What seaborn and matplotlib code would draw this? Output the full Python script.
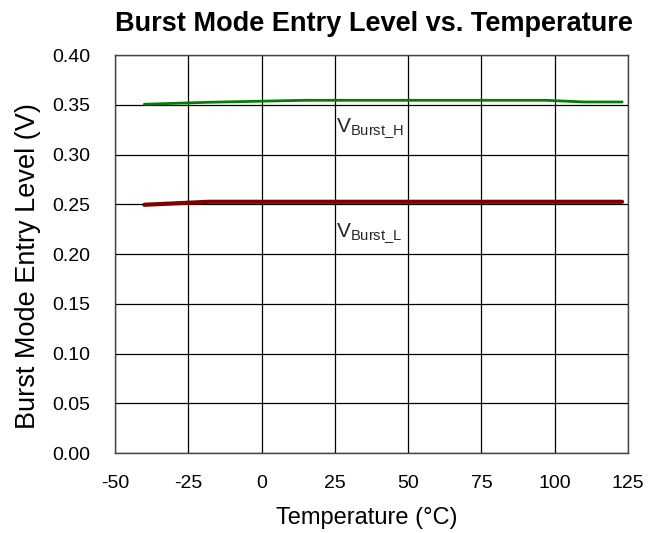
import matplotlib
matplotlib.use("Agg")
import matplotlib.pyplot as plt
import seaborn as sns
import pandas as pd

temp_h = [-40, -18, 15, 97, 110, 123]
v_burst_h = [0.3505, 0.3525, 0.3545, 0.3545, 0.3528, 0.3528]
temp_l = [-40, -18, 123]
v_burst_l = [0.2495, 0.2525, 0.2525]
x_ticks = [-50, -25, 0, 25, 50, 75, 100, 125]
y_ticks = [0.00, 0.05, 0.10, 0.15, 0.20, 0.25, 0.30, 0.35, 0.40]

sns.set_theme(style="white")
plt.rcParams['font.family'] = ['Liberation Sans', 'DejaVu Sans']
plt.rcParams['mathtext.fontset'] = 'custom'
plt.rcParams['mathtext.rm'] = 'Liberation Sans'

df_h = pd.DataFrame({"T": temp_h, "V": v_burst_h})
df_l = pd.DataFrame({"T": temp_l, "V": v_burst_l})

fig = plt.figure(figsize=(6.67, 5.33), dpi=100)
ax = fig.add_axes([0.1724, 0.15, 0.7691, 0.7468])

sns.lineplot(data=df_h, x="T", y="V", ax=ax, color="#008000", linewidth=2.0)
sns.lineplot(data=df_l, x="T", y="V", ax=ax, color="#800000", linewidth=3.0)

ax.set_xlim(-50, 125)
ax.set_ylim(0, 0.40)
ax.set_xticks(x_ticks)
ax.set_yticks(y_ticks)
ax.set_xticklabels([str(t) for t in x_ticks])
ax.set_yticklabels([f"{v:.2f}" for v in y_ticks])
ax.grid(True, color="black", linewidth=0.9)
ax.set_axisbelow(True)
for s in ax.spines.values():
    s.set_color("#444444")
    s.set_linewidth(1.0)
ax.tick_params(axis="both", length=0, labelsize=14, colors="black")
ax.tick_params(axis="y", pad=18)
ax.tick_params(axis="x", pad=16)

ax.set_xlabel("Temperature (°C)", fontsize=17, color="black")
ax.xaxis.set_label_coords(0.49, -0.135)
ax.set_ylabel("Burst Mode Entry Level (V)", fontsize=19.5, color="black")
ax.yaxis.set_label_coords(-0.145, 0.47)
ax.set_title("Burst Mode Entry Level vs. Temperature", fontsize=19.5, fontweight="bold",
             pad=17, color="black", x=0.505)

ax.text(25.4, 0.3225, r"V$_{\mathregular{Burst\_H}}$", fontsize=15, va="baseline", ha="left")
ax.text(25.4, 0.217, r"V$_{\mathregular{Burst\_L}}$", fontsize=15, va="baseline", ha="left")

fig.savefig("out.png", dpi=100)
